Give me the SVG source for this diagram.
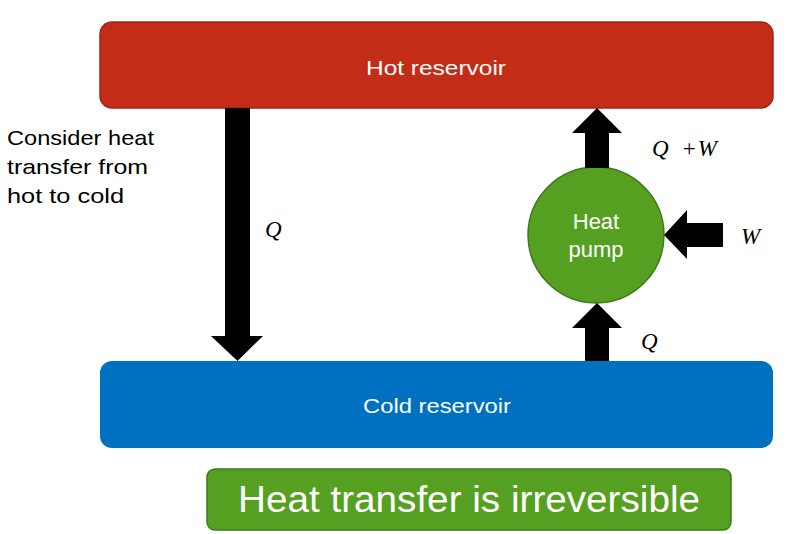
<svg xmlns="http://www.w3.org/2000/svg" width="786" height="534" viewBox="0 0 786 534">
<style>
.lbl{font-family:"Liberation Sans",Arial,sans-serif;fill:#fff}
.math{font-family:"Liberation Serif","Times New Roman",serif;font-style:italic;font-size:23px;fill:#000}
.side{font-family:"Liberation Sans",Arial,sans-serif;font-size:21px;fill:#000}
.arrow{fill:#000}
</style>
<rect width="786" height="534" fill="#fff"/>
<g id="hot">
<rect x="100" y="22" width="673" height="86" rx="12" fill="#C32D17" stroke="#9E2614" stroke-width="1.5"/>
<text class="lbl" x="436" y="75" font-size="21" text-anchor="middle" textLength="140" lengthAdjust="spacingAndGlyphs">Hot reservoir</text>
</g>
<g id="cold">
<rect x="100" y="361" width="673" height="87" rx="12" fill="#0070C0"/>
<text class="lbl" x="437" y="413" font-size="21" text-anchor="middle" textLength="148" lengthAdjust="spacingAndGlyphs">Cold reservoir</text>
</g>
<g id="pump">
<circle cx="596" cy="235" r="68" fill="#56A021" stroke="#3E7A18" stroke-width="1.5"/>
<text class="lbl" x="596" y="229" font-size="22" text-anchor="middle">Heat</text>
<text class="lbl" x="596" y="257" font-size="22" text-anchor="middle">pump</text>
</g>
<g id="note">
<text class="side" x="7" y="145" textLength="147" lengthAdjust="spacingAndGlyphs">Consider heat</text>
<text class="side" x="7" y="174" textLength="141" lengthAdjust="spacingAndGlyphs">transfer from</text>
<text class="side" x="7" y="203" textLength="117" lengthAdjust="spacingAndGlyphs">hot to cold</text>
</g>
<g id="banner">
<rect x="207" y="469" width="524" height="61" rx="8" fill="#56A021" stroke="#3E7A18" stroke-width="1.5"/>
<text class="lbl" x="469" y="512" font-size="36" text-anchor="middle" textLength="462" lengthAdjust="spacingAndGlyphs">Heat transfer is irreversible</text>
</g>
<g id="connectors">
<polygon class="arrow" points="225,108 250,108 250,336 263,336 237.5,361 211,336 225,336"/>
<polygon class="arrow" points="585,168 585,133 572,133 597,108 622,133 609,133 609,168"/>
<polygon class="arrow" points="585,361 585,328 572,328 597,303 622,328 609,328 609,361"/>
<polygon class="arrow" points="723,223 687,223 687,210 664,235 687,259 687,247 723,247"/>
</g>
<g id="labels">
<text class="math" x="265" y="237">Q</text>
<text class="math" x="652" y="156" textLength="65" lengthAdjust="spacing">Q <tspan font-style="normal" dx="4">+</tspan>W</text>
<text class="math" x="741" y="244">W</text>
<text class="math" x="641" y="349">Q</text>
</g>
</svg>
